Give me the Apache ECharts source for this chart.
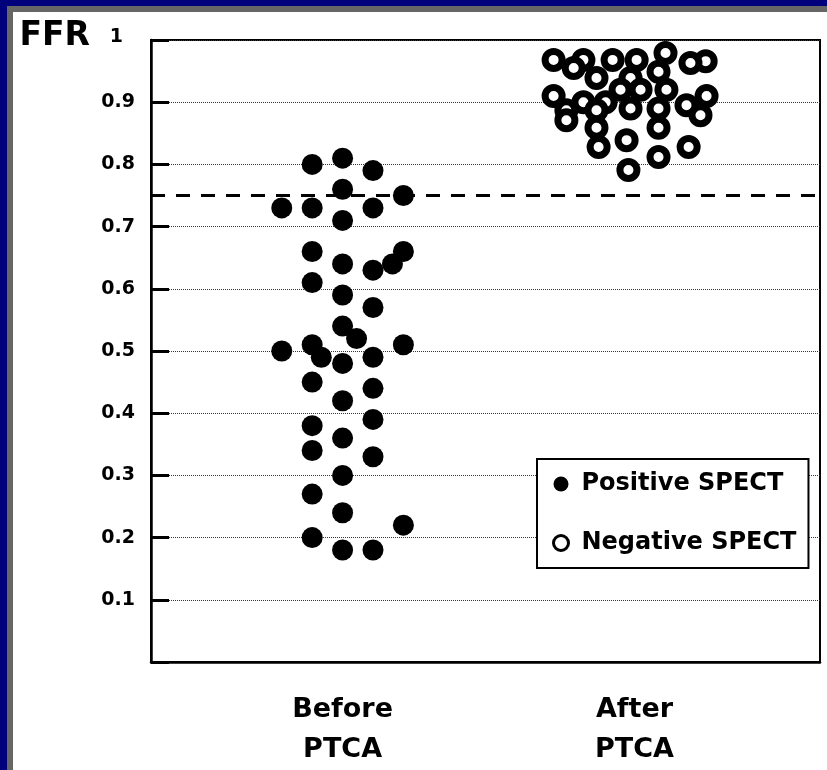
<!DOCTYPE html>
<html lang="en">
<head>
    <meta charset="UTF-8">
    <title>FFR before and after PTCA</title>
    <style>
        html, body { margin: 0; padding: 0; background: #00007c; overflow: hidden; }
        #frame {
            position: absolute; left: 7px; top: 6px; width: 840px; height: 800px;
            background: #fff; border-left: 6px solid #666; border-top: 6px solid #666;
        }
        #main { position: absolute; left: 0; top: 0; width: 827px; height: 770px; }
    </style>
</head>
<body>
<div id="frame"></div>
<div id="main"></div>
<script src="https://cdn.jsdelivr.net/npm/echarts@6/dist/echarts.min.js"></script>
<script>
    // group labels and where each group sits on the x axis (column units)
    var groupNames = ['Before\nPTCA', 'After\nPTCA'];
    var groupPos = [0, 9.6];
    var seriesNames = ['Positive SPECT', 'Negative SPECT'];
    var cutoff = 0.75;
    var yTicks = [0.1, 0.2, 0.3, 0.4, 0.5, 0.6, 0.7, 0.8, 0.9, 1];

    // before PTCA: column offset of each dot, and its FFR
    var beforeCol = [-1, 0, 1, 0, 2, -2, -1, 1, 0, -1, 2, 0, 1.64, 1, -1, 0, 1, 0, 0.46, -2,
        -1, -0.7, 2, 0, 1, -1, 1, 0, -1, 1, 0, -1, 1, 0, -1, 0, 2, -1, 0, 1];
    var beforeFFR = [0.80, 0.81, 0.79, 0.76, 0.75, 0.73, 0.73, 0.73, 0.71, 0.66, 0.66, 0.64, 0.64, 0.63, 0.61, 0.59, 0.57, 0.54, 0.52, 0.50,
        0.51, 0.49, 0.51, 0.48, 0.49, 0.45, 0.44, 0.42, 0.38, 0.39, 0.36, 0.34, 0.33, 0.30, 0.27, 0.24, 0.22, 0.20, 0.18, 0.18];

    // after PTCA
    var afterCol = [-2.66, -1.68, -0.72, 0.07, 1.02, 2.34, 1.84, -2.0, -1.25, -0.13, 0.79, -2.66, 2.37, -0.46, 0.2, 1.05,
        -1.68, -0.95, -0.13, 0.79, 1.71, -2.24, -1.25, 2.17, -2.24, -1.25, 0.79, -0.26, -1.18, 1.78, 0.79, -0.2];
    var afterFFR = [0.968, 0.968, 0.968, 0.968, 0.979, 0.966, 0.963, 0.955, 0.939, 0.939, 0.949, 0.91, 0.91, 0.92, 0.92, 0.92,
        0.90, 0.90, 0.89, 0.89, 0.895, 0.887, 0.887, 0.879, 0.871, 0.859, 0.859, 0.839, 0.828, 0.828, 0.812, 0.791];

    function pairs(cols, vals, g) {
        var out = [];
        for (var i = 0; i < vals.length; i++) {
            out.push([groupPos[g] + cols[i], vals[i]]);
        }
        return out;
    }

    var font = 'DejaVu Sans';
    var chart = echarts.init(document.getElementById('main'), null, {renderer: 'canvas'});

    var option = {
        animation: false,
        backgroundColor: 'transparent',
        grid: {
            left: 151, top: 40, right: 7, bottom: 108,
            show: true, borderColor: '#000', borderWidth: 2, backgroundColor: 'transparent'
        },
        legend: {
            orient: 'vertical',
            left: 537, top: 459,
            padding: [13, 12, 13, 15],
            borderColor: '#000', borderWidth: 2,
            backgroundColor: '#fff',
            itemWidth: 15, itemHeight: 15, itemGap: 35,
            selectedMode: false,
            textStyle: {fontFamily: font, fontWeight: 'bold', fontSize: 24, color: '#000', padding: [0, 0, 0, 8]},
            data: [
                {name: seriesNames[0], icon: 'circle', itemStyle: {color: '#000'}},
                {name: seriesNames[1], icon: 'circle', itemStyle: {color: '#fff', borderColor: '#000', borderWidth: 3}}
            ]
        },
        xAxis: {
            type: 'value',
            min: -6.3, max: 15.7,
            axisLine: {show: true, onZero: false, lineStyle: {color: '#000', width: 2.5}},
            axisTick: {show: false},
            splitLine: {show: false},
            axisLabel: {
                customValues: groupPos,
                margin: 28,
                fontFamily: font, fontWeight: 'bold', fontSize: 27, lineHeight: 40, color: '#000',
                formatter: function (v) {
                    var i = groupPos.indexOf(v);
                    return i < 0 ? '' : groupNames[i];
                }
            }
        },
        yAxis: {
            type: 'value',
            min: 0, max: 1, interval: 0.1,
            name: 'FFR',
            nameLocation: 'end',
            nameGap: 4,
            nameTextStyle: {
                fontFamily: font, fontWeight: 'bold', fontSize: 33, color: '#000',
                align: 'right', verticalAlign: 'middle', padding: [0, 61, 0, 0]
            },
            axisLine: {show: true, onZero: false, lineStyle: {color: '#000', width: 2.5}},
            axisTick: {show: true, inside: true, length: 18, lineStyle: {color: '#000', width: 3}},
            splitLine: {show: true, lineStyle: {color: '#333', width: 1, type: 'dotted'}},
            axisLabel: {
                margin: 16,
                fontFamily: font, fontWeight: 'bold', fontSize: 19, color: '#000',
                formatter: function (v) {
                    var r = Math.round(v * 10) / 10;
                    if (yTicks.indexOf(r) < 0) return '';
                    if (r === 1) return '{one|1}';
                    return r.toFixed(1);
                },
                rich: {
                    one: {fontFamily: font, fontWeight: 'bold', fontSize: 19, color: '#000', padding: [0, 12, 6, 0]}
                }
            }
        },
        series: [
            {
                name: seriesNames[0],
                type: 'scatter',
                symbol: 'circle',
                symbolSize: 21,
                clip: false,
                silent: true,
                itemStyle: {color: '#000', opacity: 1},
                data: pairs(beforeCol, beforeFFR, 0),
                markLine: {
                    silent: true,
                    symbol: 'none',
                    label: {show: false},
                    lineStyle: {color: '#000', width: 3, type: [14, 11]},
                    data: [{yAxis: cutoff}]
                }
            },
            {
                name: seriesNames[1],
                type: 'scatter',
                symbol: 'circle',
                symbolSize: 17,
                clip: false,
                silent: true,
                itemStyle: {color: '#fff', borderColor: '#000', borderWidth: 7, opacity: 1},
                data: pairs(afterCol, afterFFR, 1)
            }
        ]
    };
    chart.setOption(option);
</script>
</body>
</html>
